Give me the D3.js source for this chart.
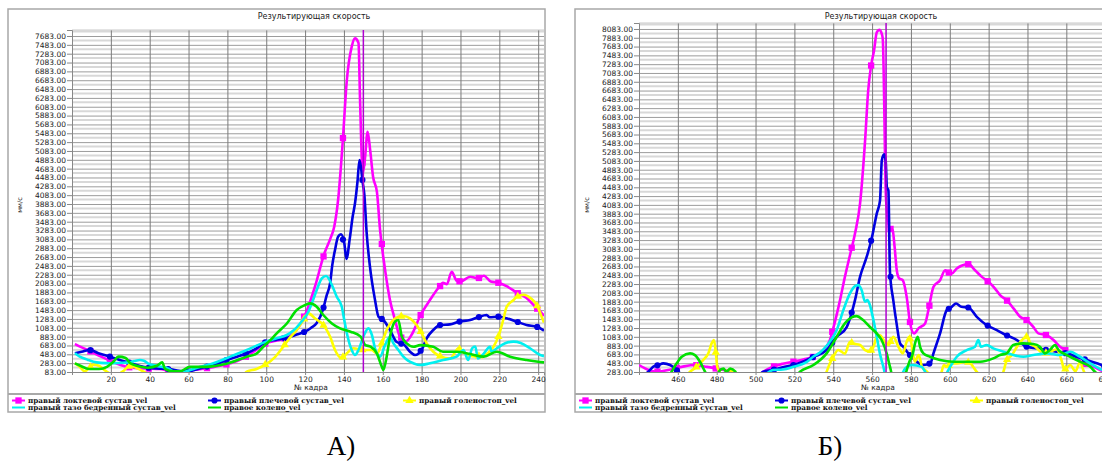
<!DOCTYPE html>
<html>
<head>
<meta charset="utf-8">
<style>
    body { margin: 0; background: #fff; }
    svg text { font-family: "DejaVu Sans", Arial, sans-serif; fill: #222; }
    .legend text { font-family: "DejaVu Serif", serif; font-size: 7.2px; fill: #111; }
    .caption { font-family: "Liberation Serif", "Times New Roman", serif; font-size: 27px; fill: #000; }
</style>
</head>
<body>
<svg id="chart" width="1102" height="463"></svg>

<script src="https://cdn.jsdelivr.net/npm/d3@7/dist/d3.min.js"></script>
<script>
// ---- data: [frame, value] ----
let seriesNames = ["правый локтевой сустав_vel", "правый плечевой сустав_vel", "правый голеностоп_vel",
                   "правый тазо бедренный сустав_vel", "правое колено_vel"]

// panel A
let elbowA = [[1.5,716],[5,640],[9,560],[15,430],[20,330],[25,240],[30,185],[35,165],[40,160],[45,150],[50,110],[55,70],[60,110],[65,140],[70,175],[75,215],[80,260],[85,330],[90,440],[95,590],[100,740],[105,790],[110,850],[115,1000],[120,1372],[125,2000],[130,2775],[133,3100],[135,3370],[137,3974],[139.4,5308],[141.5,6688],[144,7440],[145.7,7630],[147.5,7525],[148.3,6235],[149.7,4584],[150.8,4900],[152.2,5518],[153.5,5100],[155,4500],[157,4150],[158.6,3295],[161,2450],[163.7,1712],[166.3,1259],[168.9,880],[172,780],[175.3,960],[179.2,1350],[184.3,1712],[188.6,1983],[191,2100],[193,2070],[195.5,2352],[198,2150],[200,2130],[205,2239],[209,2200],[212,2260],[215.6,2130],[219.5,2103],[224,2020],[229,1877],[234,1757],[238.5,1560],[241.8,1417],[243,1350]]
let shoulderA = [[1.5,506],[5,540],[9.3,580],[14,500],[19.6,430],[25,350],[30,287],[35,220],[40,174],[45,160],[50,150],[55,110],[59,90],[64,140],[69,200],[75,270],[79.6,354],[85,430],[90,506],[95,620],[100,768],[105,810],[110.6,853],[115,920],[120,995],[123,1080],[126,1190],[129.4,1523],[131,1800],[132.9,2096],[134,2500],[135.4,2843],[137,3143],[138.5,3200],[140.2,2994],[141.3,2640],[143,3100],[144.5,3600],[145.7,3899],[147,4400],[148,4880],[148.8,4700],[149.6,4388],[150.5,4100],[151.7,3227],[153.4,2465],[156,1712],[157.8,1334],[160.3,1259],[163.7,1033],[167,768],[171,700],[174,542],[176.6,467],[180,580],[182.6,845],[186,1033],[189.5,1146],[194.6,1160],[199,1221],[205,1259],[209,1320],[213.5,1372],[215,1320],[219.5,1334],[223.7,1300],[229,1221],[234,1146],[239.3,1108],[243,1020]]
let ankleA = [[1.5,280],[4,200],[6.5,100],[9,180],[11,250],[14,220],[17,120],[20,40],[23,20],[26,90],[30,230],[33,180],[37,90],[40,20],[50,0],[60,0],[70,0],[80,0],[88,20],[90,90],[95,150],[100,260],[104.5,420],[108.8,655],[112,850],[115.7,1033],[119,1250],[121.7,1410],[125,1300],[129.4,1146],[132.9,882],[135.4,580],[138.9,393],[141.5,506],[144.9,620],[150,580],[154.3,580],[157,500],[159.5,732],[162,1033],[164.6,1221],[168,1334],[170.6,1350],[174,1297],[177.4,1146],[180,958],[182.6,732],[186,542],[190,430],[194.6,390],[199,620],[203.5,460],[208.6,430],[213.8,500],[217,655],[219.5,882],[222,1259],[223.8,1560],[227.3,1712],[229,1786],[232.6,1830],[236,1757],[239.3,1598],[241.8,1334],[243,1200]]
let hipA = [[1.5,506],[4,430],[8,360],[11,316],[15,290],[20,280],[25,290],[29,300],[32,330],[35,354],[37,340],[39,280],[44,220],[50,150],[53,70],[56,60],[59,100],[66,200],[72.8,280],[81.5,430],[90,580],[95,680],[100,770],[105,840],[110.6,920],[114,1020],[117.4,1180],[121.7,1447],[124,1700],[126,1938],[128.6,2202],[130.8,2255],[133.8,2051],[136.3,1786],[138.9,1560],[140,1300],[141.5,958],[144,580],[145.7,467],[147.5,580],[150,882],[152.6,1070],[154.4,920],[156,620],[158.6,430],[161.2,693],[163.7,882],[165.5,730],[168,580],[170.6,430],[173,340],[175.8,280],[179.2,240],[184.3,280],[191,354],[198,430],[201.5,580],[204,354],[206,620],[207.6,660],[209,390],[212,500],[215.2,655],[216,540],[218.7,620],[223,732],[227.3,770],[231,740],[235.8,620],[241,467],[243,440]]
let kneeA = [[1.5,280],[4,230],[9,150],[14,150],[18,200],[21.3,316],[24,430],[27.6,400],[30,280],[33.7,220],[39,180],[44,230],[46.4,300],[48,150],[52,100],[55.6,100],[60.8,200],[69,200],[79.6,270],[90,430],[95,500],[98.5,655],[102,800],[105.4,958],[110.6,1180],[115.7,1485],[120,1598],[122.6,1636],[126,1560],[129.4,1372],[133.8,1180],[138,1070],[143.4,995],[148.6,882],[151,693],[153.7,655],[157,500],[159.5,200],[160.3,130],[162,430],[163.7,882],[166.3,1221],[168,1259],[169.8,882],[172.3,730],[175.8,655],[179.2,690],[186,655],[191,540],[198,540],[205,490],[212,430],[218.7,540],[225.6,430],[234,354],[241,310],[243,300]]

// panel B
let elbowB = [[440,442],[445,330],[449,290],[455,330],[462,400],[468.8,442],[475,400],[480,360],[483.6,330],[487,290],[490,200],[495,150],[500,150],[504,290],[509,404],[514,470],[519.5,517],[525,570],[529.8,630],[535,780],[538.3,1010],[540,1275],[543.5,1917],[546,2446],[548.6,2939],[551.2,3431],[553.8,4112],[556.4,5549],[558,6684],[559.5,7252],[561,7592],[562.4,8008],[563.7,8062],[565,7970],[565.5,7856],[567.2,4200],[569,3550],[570.6,3506],[571.6,3127],[572.7,2598],[574,2410],[575.8,2370],[577.8,1992],[579.6,1388],[581.6,1161],[584,1280],[587.3,1388],[589,1690],[591.6,2219],[595,2370],[597.6,2598],[598.5,2560],[601,2520],[603.6,2636],[606,2700],[609.6,2735],[613,2598],[616.5,2446],[619.9,2333],[623.3,2180],[625.9,2030],[629.3,1917],[632.8,1730],[636.2,1538],[639.6,1463],[643,1310],[645.6,1161],[649.6,1123],[653.4,1010],[656.8,857],[659.4,782],[663.7,630],[668.8,480],[674,400],[677.4,330],[683,250]]
let shoulderB = [[441,150],[444.8,290],[447.4,404],[450,442],[452.5,480],[456,442],[458.6,360],[460.3,290],[465,150],[480,100],[500,150],[504,290],[509,330],[514,390],[519.5,442],[525,530],[530,630],[536.6,782],[541.8,1084],[547,1311],[549,1553],[551.2,1917],[553.8,2446],[557.2,2900],[559.8,3317],[562.4,3885],[564.1,4187],[565,5095],[566.2,5231],[567,5095],[567.6,4490],[568.4,4414],[569.2,2560],[570.9,1917],[572.6,1388],[574.4,934],[576,857],[578.7,707],[582,555],[586.4,442],[590,480],[591.6,707],[595,1161],[598.4,1690],[601,1765],[603.2,1840],[606,1765],[609.6,1750],[613.9,1538],[619,1350],[624.2,1236],[629,1123],[634.6,1010],[639.6,857],[645,820],[650,782],[655,745],[660.2,707],[665,630],[670.5,555],[675.7,480],[678,442],[683,380]]
let ankleB = [[440,100],[462,100],[466.3,290],[469.7,404],[473,555],[475.7,707],[477.4,934],[478.6,1010],[479.6,700],[480.3,404],[481.4,290],[483,200],[486,330],[488,290],[489,200],[500,100],[535,100],[536.6,290],[538.3,480],[540,630],[542.6,782],[546,700],[548.6,970],[550.3,930],[553.8,896],[556.4,780],[559,745],[560.7,850],[562.4,1084],[564,1120],[566.6,970],[568.4,896],[571,1084],[573.6,850],[575.8,707],[577.8,970],[579.2,1084],[580.4,896],[581,707],[582,520],[584,668],[585.7,400],[588.3,290],[590,200],[595,200],[597,442],[598.4,404],[602,480],[603.5,480],[608.7,517],[610.6,480],[612,404],[613.8,290],[616,200],[625,150],[627.6,290],[629.3,555],[632,668],[634.6,857],[637.2,1010],[639.6,1084],[641.5,934],[644,857],[646.7,745],[649.2,707],[651.8,745],[655,800],[657.5,555],[659,330],[662,442],[664.7,300],[667,500],[669,300],[671,150],[683,100]]
let hipB = [[500,150],[504,200],[509,330],[514,340],[519.5,400],[526,500],[530,640],[533,720],[536.6,880],[541.8,1236],[545.2,1690],[548.6,2070],[551.2,2235],[552.9,2258],[554.6,2145],[556.4,1880],[557.6,1917],[558.6,1840],[560.7,1463],[562.4,1084],[564,707],[565.8,404],[567,200],[574,150],[577,360],[580.4,442],[585.5,400],[589,200],[597,200],[600.7,442],[603.6,630],[608.7,782],[613,857],[614.7,1010],[616,857],[619,896],[622.4,820],[627.6,745],[632.7,668],[637.9,630],[643,668],[650,707],[656.8,668],[662,745],[667,630],[672.3,480],[676.6,370],[683,250]]
let kneeB = [[455,150],[456.8,290],[459.4,480],[462,630],[466.3,707],[468.8,668],[471.4,517],[474,290],[476,150],[480,200],[481.8,330],[483.5,360],[485,290],[487,360],[489.6,290],[491,150],[520,150],[522.9,290],[529.8,442],[536.6,707],[541.8,1084],[546,1388],[549.5,1523],[552,1553],[555.4,1463],[558.8,1311],[562.4,1161],[564.9,1010],[567.5,707],[569.2,404],[570.5,200],[576,150],[579.2,517],[581,707],[582.1,934],[583.5,1084],[584.7,857],[586.4,707],[589.8,630],[595,555],[601.9,517],[608.7,517],[615.6,517],[622.4,593],[625.9,668],[629.3,707],[632.7,896],[637.9,934],[643,920],[646.4,857],[649,707],[651.5,782],[654.2,896],[656,782],[658.5,707],[662,630],[667,517],[672.3,404],[675.7,250],[683,150]]

// ticks and cursors
let yTicksA = d3.range(83, 7684, 200)
let yTicksB = d3.range(283, 8084, 200)
let xTicksA = [20, 40, 60, 80, 100, 120, 140, 160, 180, 200, 220, 240]
let xTicksB = [460, 480, 500, 520, 540, 560, 580, 600, 620, 640, 660, 680]
let markFramesA = d3.range(9.5, 243, 10)
let markFramesB = d3.range(449.5, 683, 10)
let cursorA = 150
let cursorB = 567.2

let colors = ["#ff00ff", "#0000e0", "#ffff00", "#00f0f0", "#00e000"]
let symbols = [d3.symbolSquare, d3.symbolCircle, d3.symbolTriangle, null, null]
let symSize = [40, 30, 30, 0, 0]

let svg = d3.select("#chart")
let fmt = d3.format(".2f")

function drawPanel(p, id) {
    let g = svg.append("g")
    let fx = p.frame[0], fy = p.frame[1], fw = p.frame[2], fh = p.frame[3]

    g.append("rect")
        .attr("x", fx).attr("y", fy).attr("width", fw).attr("height", fh)
        .attr("fill", "#fff").attr("stroke", "#a8a8a8").attr("stroke-width", 1.5)

    let x = d3.scaleLinear().domain(p.xDomain).range([p.left, p.right])
    let y = d3.scaleLinear().domain(p.yDomain).range([p.bottom, p.top])
    let w = p.right - p.left

    g.append("text")
        .attr("x", fx + 306).attr("y", fy + 10)
        .attr("text-anchor", "middle").attr("font-size", 8)
        .text("Результирующая скорость")

    // light in-between lines
    g.selectAll(".minor").data(p.yTicks.map(t => t + 100))
        .enter().append("line")
        .attr("x1", p.left).attr("x2", p.right)
        .attr("y1", d => y(d)).attr("y2", d => y(d))
        .attr("stroke", "#d8d8d8").attr("stroke-width", 2)

    // grid
    g.append("g").attr("transform", `translate(${p.left},0)`)
        .call(d3.axisLeft(y).tickValues(p.yTicks).tickSize(-w).tickFormat(""))
        .call(a => a.select(".domain").remove())
        .selectAll("line").attr("stroke", "#9c9c9c")

    g.append("g").attr("transform", `translate(0,${p.top})`)
        .call(d3.axisBottom(x).tickValues(p.xTicks).tickSize(p.bottom - p.top).tickFormat(""))
        .call(a => a.select(".domain").remove())
        .selectAll("line").attr("stroke", "#7c7c7c")

    g.append("line")
        .attr("x1", p.left).attr("x2", p.right).attr("y1", p.top).attr("y2", p.top)
        .attr("stroke", "#c8c8c8")

    // axes
    let ya = g.append("g").attr("transform", `translate(${p.left},0)`)
        .call(d3.axisLeft(y).tickValues(p.yTicks).tickSize(5).tickPadding(1).tickFormat(fmt))
    ya.select(".domain").attr("stroke", "#888")
    ya.selectAll("line").attr("stroke", "#888")
    ya.selectAll("text").attr("font-size", 7.5).attr("fill", "#333")
        .style("font-family", "DejaVu Sans")

    let xa = g.append("g").attr("transform", `translate(0,${p.bottom})`)
        .call(d3.axisBottom(x).tickValues(p.xTicks).tickSize(3).tickPadding(2))
    xa.select(".domain").attr("stroke", "#888")
    xa.selectAll("line").attr("stroke", "#888")
    xa.selectAll("text").attr("font-size", 7.5).attr("fill", "#333")
        .style("font-family", "DejaVu Sans")

    g.append("text")
        .attr("x", fx + 303).attr("y", p.bottom + 18)
        .attr("text-anchor", "middle").attr("font-size", 7.5)
        .text("№ кадра")

    g.append("text")
        .attr("transform", `translate(${fx + 14},${205}) rotate(-90)`)
        .attr("text-anchor", "middle").attr("font-size", 6.5)
        .text("мм/с")

    // series
    g.append("clipPath").attr("id", "clip" + id)
        .append("rect")
        .attr("x", p.left).attr("y", p.top)
        .attr("width", w).attr("height", p.bottom - p.top)

    let plot = g.append("g").attr("clip-path", `url(#clip${id})`)
    let line = d3.line().x(d => x(d[0])).y(d => y(d[1])).curve(d3.curveMonotoneX)
    let bis = d3.bisector(d => d[0]).left

    p.series.forEach((s, i) => {
        plot.append("path").datum(s)
            .attr("d", line)
            .attr("fill", "none")
            .attr("stroke", colors[i])
            .attr("stroke-width", 2.6)
            .attr("stroke-linejoin", "round")

        if (symbols[i]) {
            // markers sit on the drawn line every 10 frames
            let pts = p.marks.map(f => {
                if (f < s[0][0] || f > s[s.length - 1][0]) return null
                let k = Math.max(1, Math.min(s.length - 1, bis(s, f)))
                let a = s[k - 1], b = s[k]
                let t = (f - a[0]) / (b[0] - a[0])
                return [f, a[1] + t * (b[1] - a[1])]
            }).filter(d => d && d[1] > p.yDomain[0])
            plot.selectAll(".m" + i).data(pts).enter().append("path")
                .attr("transform", d => `translate(${x(d[0])},${y(d[1])})`)
                .attr("d", d3.symbol().type(symbols[i]).size(symSize[i]))
                .attr("fill", colors[i])
        }
    })

    // cursor
    g.append("line")
        .attr("x1", x(p.cursor)).attr("x2", x(p.cursor))
        .attr("y1", p.top).attr("y2", p.bottom)
        .attr("stroke", "#b000d0").attr("stroke-width", 1.5)

    // legend
    let ly = p.bottom + 22
    g.append("line")
        .attr("x1", fx).attr("x2", fx + fw).attr("y1", ly).attr("y2", ly)
        .attr("stroke", "#a8a8a8").attr("stroke-width", 2)

    let cols = [4, 200, 395]
    let lg = g.append("g").attr("class", "legend")
    seriesNames.forEach((name, i) => {
        let cx = fx + cols[i % 3], cy = ly + 6.5 + Math.floor(i / 3) * 7
        lg.append("line")
            .attr("x1", cx).attr("x2", cx + 13).attr("y1", cy).attr("y2", cy)
            .attr("stroke", colors[i]).attr("stroke-width", 2)
        if (symbols[i]) {
            lg.append("path")
                .attr("transform", `translate(${cx + 6.5},${cy})`)
                .attr("d", d3.symbol().type(symbols[i]).size(symSize[i]))
                .attr("fill", colors[i])
        }
        lg.append("text")
            .attr("x", cx + 16).attr("y", cy + 2.5)
            .style("font-weight", "bold")
            .text(name)
    })

    svg.append("text").attr("class", "caption")
        .attr("x", p.caption[0]).attr("y", p.caption[1])
        .attr("text-anchor", "middle")
        .text(p.captionText)
}

drawPanel({
    frame: [8, 9, 537, 403],
    left: 72, right: 544, top: 30, bottom: 372,
    xDomain: [0, 243], yDomain: [83, 7819],
    xTicks: xTicksA, yTicks: yTicksA, marks: markFramesA, cursor: cursorA,
    series: [elbowA, shoulderA, ankleA, hipA, kneeA],
    caption: [341, 455], captionText: "А)"
}, "A")

drawPanel({
    frame: [575, 9, 540, 403],
    left: 639, right: 1111, top: 23, bottom: 372,
    xDomain: [440, 683], yDomain: [283, 8219],
    xTicks: xTicksB, yTicks: yTicksB, marks: markFramesB, cursor: cursorB,
    series: [elbowB, shoulderB, ankleB, hipB, kneeB],
    caption: [830, 455], captionText: "Б)"
}, "B")
</script>
</body>
</html>
